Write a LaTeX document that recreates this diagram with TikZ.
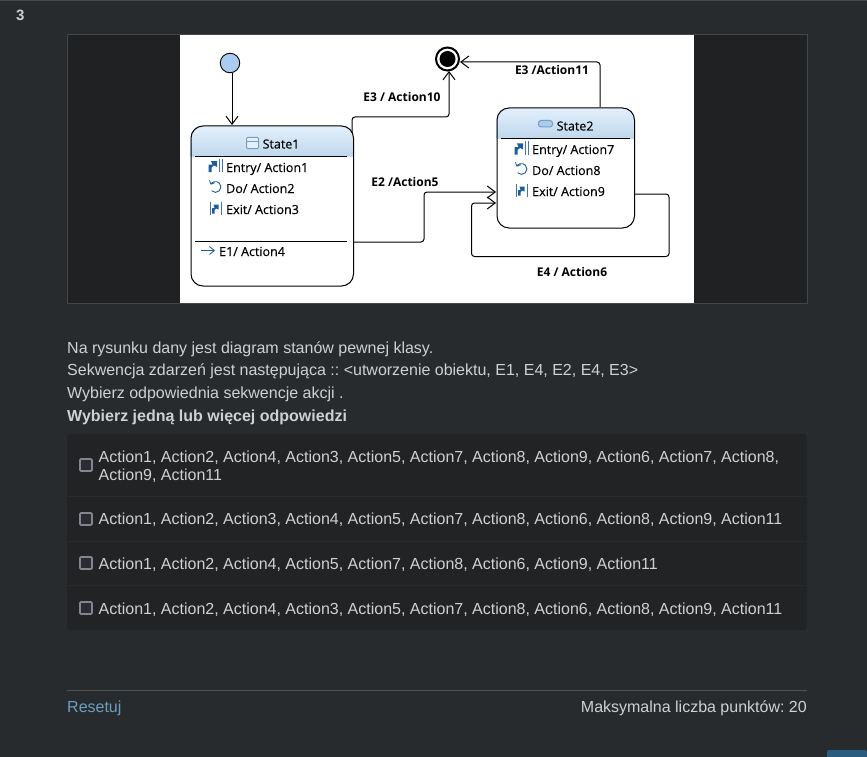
\documentclass[tikz,border=0pt]{standalone}
\usepackage{fontspec}
\setmainfont{Liberation Sans}
\newfontfamily\diagfont[FakeBold=.25]{Open Sans}
\newfontfamily\diagbold{Open Sans}
\usetikzlibrary{arrows.meta,calc}
\definecolor{pagebg}{HTML}{282B2D}
\definecolor{imgbg}{HTML}{1F2122}
\definecolor{imgedge}{HTML}{43474A}
\definecolor{panelbg}{HTML}{212325}
\definecolor{sepline}{HTML}{282A2C}
\definecolor{txt}{HTML}{CFD0D1}
\definecolor{boxedge}{HTML}{85858F}
\definecolor{boxfill}{HTML}{2A2B33}
\definecolor{linkc}{HTML}{6A9FBF}
\definecolor{footline}{HTML}{505354}
\definecolor{headtop}{HTML}{E3F0FC}
\definecolor{headbot}{HTML}{BFD7EC}
\definecolor{iconb}{HTML}{1B5E9B}
\definecolor{startc}{HTML}{A9CCF0}
\definecolor{btn}{HTML}{2A5C80}
\tikzset{
  x=1pt,y=-1pt,
  page/.style={font=\fontsize{16}{18}\selectfont,text=txt,inner sep=0pt,anchor=base west},
  answer/.style={page},
  chk/.style={draw=boxedge,fill=boxfill,line width=1.6pt,rounded corners=1pt,minimum size=12pt,inner sep=0pt},
  statebox/.style={draw=black,line width=1pt,rounded corners=12pt,inner sep=0pt,anchor=north west},
  diag/.style={font=\diagfont\fontsize{12.5}{14}\selectfont,text=black,inner sep=0pt,anchor=base west},
  evt/.style={font=\diagbold\bfseries\fontsize{12}{14}\selectfont,text=black,inner sep=0pt,anchor=base},
  conn/.style={draw=black,line width=1pt,rounded corners=3pt},
  arr/.style={conn,-{Straight Barb[length=8pt,width=12pt,line width=1pt]}},
  rule/.style={draw=black,line width=1pt},
  entryicon/.pic={
    \fill[iconb] (-7,6.5)--(-7,-1)--(-3,-1)--(-4.5,-4.5)--(1.5,-4.5)--(1.5,1.5)--(-1.5,0)--(-4,2)--(-4,6.5)--cycle;
    \draw[iconb!85,line width=1pt] (3.5,-6.5)--(3.5,6.5) (6.5,-6.5)--(6.5,6.5);},
  exiticon/.pic={
    \draw[iconb!85,line width=1pt] (-5.5,-6.5)--(-5.5,6.5) (5.5,-6.5)--(5.5,6.5);
    \fill[iconb] (-3.5,5.5)--(-3.5,0)--(-1,0)--(-2,-3.5)--(3,-3.5)--(3,1.5)--(.5,.5)--(-1,2)--(-1,5.5)--cycle;},
  doicon/.pic={\draw[iconb,line width=.9pt,-{Straight Barb[length=3pt,width=6pt,line width=.8pt]}] (-3.8,3.8) arc[start angle=135,end angle=-155,radius=5.4];},
}
\begin{document}
\frenchspacing
\begin{tikzpicture}
\useasboundingbox (0,0) rectangle (867,757);
\fill[pagebg] (0,0) rectangle (867,757);
\draw[imgedge,line width=.8pt] (0,.5) -- (867,.5);
\node[page,font=\bfseries\fontsize{15}{16}\selectfont] (qnum) at (16,21) {3};
% image panel
\fill[imgbg] (67,34.5) rectangle (807,303);
\draw[imgedge,line width=.8pt] (67,34.5) rectangle (807,303);
\fill[white] (180,35) rectangle (694,303);
% states
\begin{scope}
\clip[rounded corners=12pt] (190.5,125.5) rectangle (353,285.5);
\shade[top color=headtop,bottom color=headbot] (190.5,125.5) rectangle (353,156.5);
\end{scope}
\begin{scope}
\clip[rounded corners=12pt] (496.5,107.5) rectangle (634,227.5);
\shade[top color=headtop,bottom color=headbot] (496.5,107.5) rectangle (634,138.5);
\end{scope}
\node[statebox,minimum width=162.5pt,minimum height=160pt] (s1) at (190.5,125.5) {};
\node[statebox,minimum width=137.5pt,minimum height=120pt] (s2) at (496.5,107.5) {};
\draw[rule] (195,156.5) -- (347,156.5);
\draw[rule] (195,241.5) -- (347,241.5);
\draw[rule] (501,138.5) -- (630,138.5);
% pseudo states
\node[circle,draw=black,line width=.9pt,fill=startc,minimum size=19.5pt,inner sep=0pt] (init) at (230,63) {};
\node[circle,draw=black,line width=2pt,fill=white,minimum size=23pt,inner sep=0pt] (final) at (447.5,59) {};
\node[circle,fill=black,minimum size=16pt,inner sep=0pt] (finaldot) at (447.5,59) {};
% state 1 content
\draw[draw=iconb!60,fill=headtop,line width=1pt,rounded corners=1pt] (246.5,137.5) rectangle (258.5,148.5);
\draw[iconb!60,line width=1pt] (246.5,141.5) -- (258.5,141.5);
\node[diag,font=\diagfont\fontsize{12.5}{14}\selectfont] (t1) at (262.5,148.5) {State1};
\pic at (215.5,165.5) {entryicon};
\pic at (215.5,187) {doicon};
\pic at (215.5,208) {exiticon};
\node[diag] (a1) at (226,172) {Entry/ Action1};
\node[diag] (a2) at (226,193) {Do/ Action2};
\node[diag] (a3) at (226,214) {Exit/ Action3};
\draw[iconb,line width=.8pt,-{Straight Barb[length=5pt,width=8pt,line width=.8pt]}] (201,250.5) -- (215,250.5);
\node[diag] (a4) at (219,256) {E1/ Action4};
% state 2 content
\draw[draw=iconb!60,fill=startc,line width=1pt,rounded corners=2.5pt] (538.5,120.5) rectangle (552.5,127);
\node[diag,font=\diagfont\fontsize{12.5}{14}\selectfont] (t2) at (556.5,130.5) {State2};
\pic at (521.5,148) {entryicon};
\pic at (521.5,169) {doicon};
\pic at (521.5,190) {exiticon};
\node[diag] (b1) at (532,154) {Entry/ Action7};
\node[diag] (b2) at (532,175) {Do/ Action8};
\node[diag] (b3) at (532,196) {Exit/ Action9};
% connectors
\coordinate (c0a) at (232,73);
\coordinate (c0b) at (232,125);
\coordinate (c1a) at (352,133);
\coordinate (c1b) at (352,117);
\coordinate (c1c) at (449,117);
\coordinate (c1d) at (449,71);
\coordinate (c2a) at (353,242);
\coordinate (c2b) at (424,242);
\coordinate (c2c) at (424,192);
\coordinate (c2d) at (496,192);
\coordinate (c3a) at (600,107);
\coordinate (c3b) at (600,62);
\coordinate (c3c) at (460,62);
\coordinate (c4a) at (634,194);
\coordinate (c4b) at (669,194);
\coordinate (c4c) at (669,256.5);
\coordinate (c4d) at (471.5,256.5);
\coordinate (c4e) at (471.5,203);
\coordinate (c4f) at (496,203);
\draw[arr] (c0a) -- (c0b);
\draw[arr] (c1a) -- (c1b) -- (c1c) -- (c1d);
\draw[arr] (c2a) -- (c2b) -- (c2c) -- (c2d);
\draw[arr] (c3a) -- (c3b) -- (c3c);
\draw[arr] (c4a) -- (c4b) -- (c4c) -- (c4d) -- (c4e) -- (c4f);
\node[evt] (e1) at (402,102) {E3 / Action10};
\node[evt] (e2) at (405,186) {E2 /Action5};
\node[evt] (e3) at (552,75) {E3 /Action11};
\node[evt] (e4) at (572,276) {E4 / Action6};
% question text
\node[page] (q1) at (67,353) {Na rysunku dany jest diagram stanów pewnej klasy.};
\node[page] (q2) at (67,375) {Sekwencja zdarzeń jest następująca :: <utworzenie obiektu, E1, E4, E2, E4, E3>};
\node[page] (q3) at (67,398) {Wybierz odpowiednia sekwencje akcji .};
\node[page,font=\bfseries\fontsize{16}{18}\selectfont] (q4) at (67,421) {Wybierz jedną lub więcej odpowiedzi};
% answers
\fill[panelbg,rounded corners=3pt] (67,434) rectangle (807,630);
\draw[sepline,line width=.8pt] (67,496.5) -- (807,496.5) (67,541.5) -- (807,541.5) (67,585.5) -- (807,585.5);
\node[chk] (k1) at (86,465) {};
\node[chk] (k2) at (86,519) {};
\node[chk] (k3) at (86,563) {};
\node[chk] (k4) at (86,608) {};
\node[answer] (o1) at (98.5,462) {Action1, Action2, Action4, Action3, Action5, Action7, Action8, Action9, Action6, Action7, Action8,};
\node[answer] (o1b) at (98.5,480) {Action9, Action11};
\node[answer] (o2) at (98.5,524.5) {Action1, Action2, Action3, Action4, Action5, Action7, Action8, Action6, Action8, Action9, Action11};
\node[answer] (o3) at (98.5,569) {Action1, Action2, Action4, Action5, Action7, Action8, Action6, Action9, Action11};
\node[answer] (o4) at (98.5,614) {Action1, Action2, Action4, Action3, Action5, Action7, Action8, Action6, Action8, Action9, Action11};
% footer
\draw[footline,line width=1pt] (67,690.5) -- (807,690.5);
\node[page,text=linkc] (reset) at (67,712) {Resetuj};
\node[page,anchor=base east] (score) at (807,712) {Maksymalna liczba punktów: 20};
\fill[btn,rounded corners=2pt] (827,750) rectangle (867,760);
\end{tikzpicture}
\end{document}
